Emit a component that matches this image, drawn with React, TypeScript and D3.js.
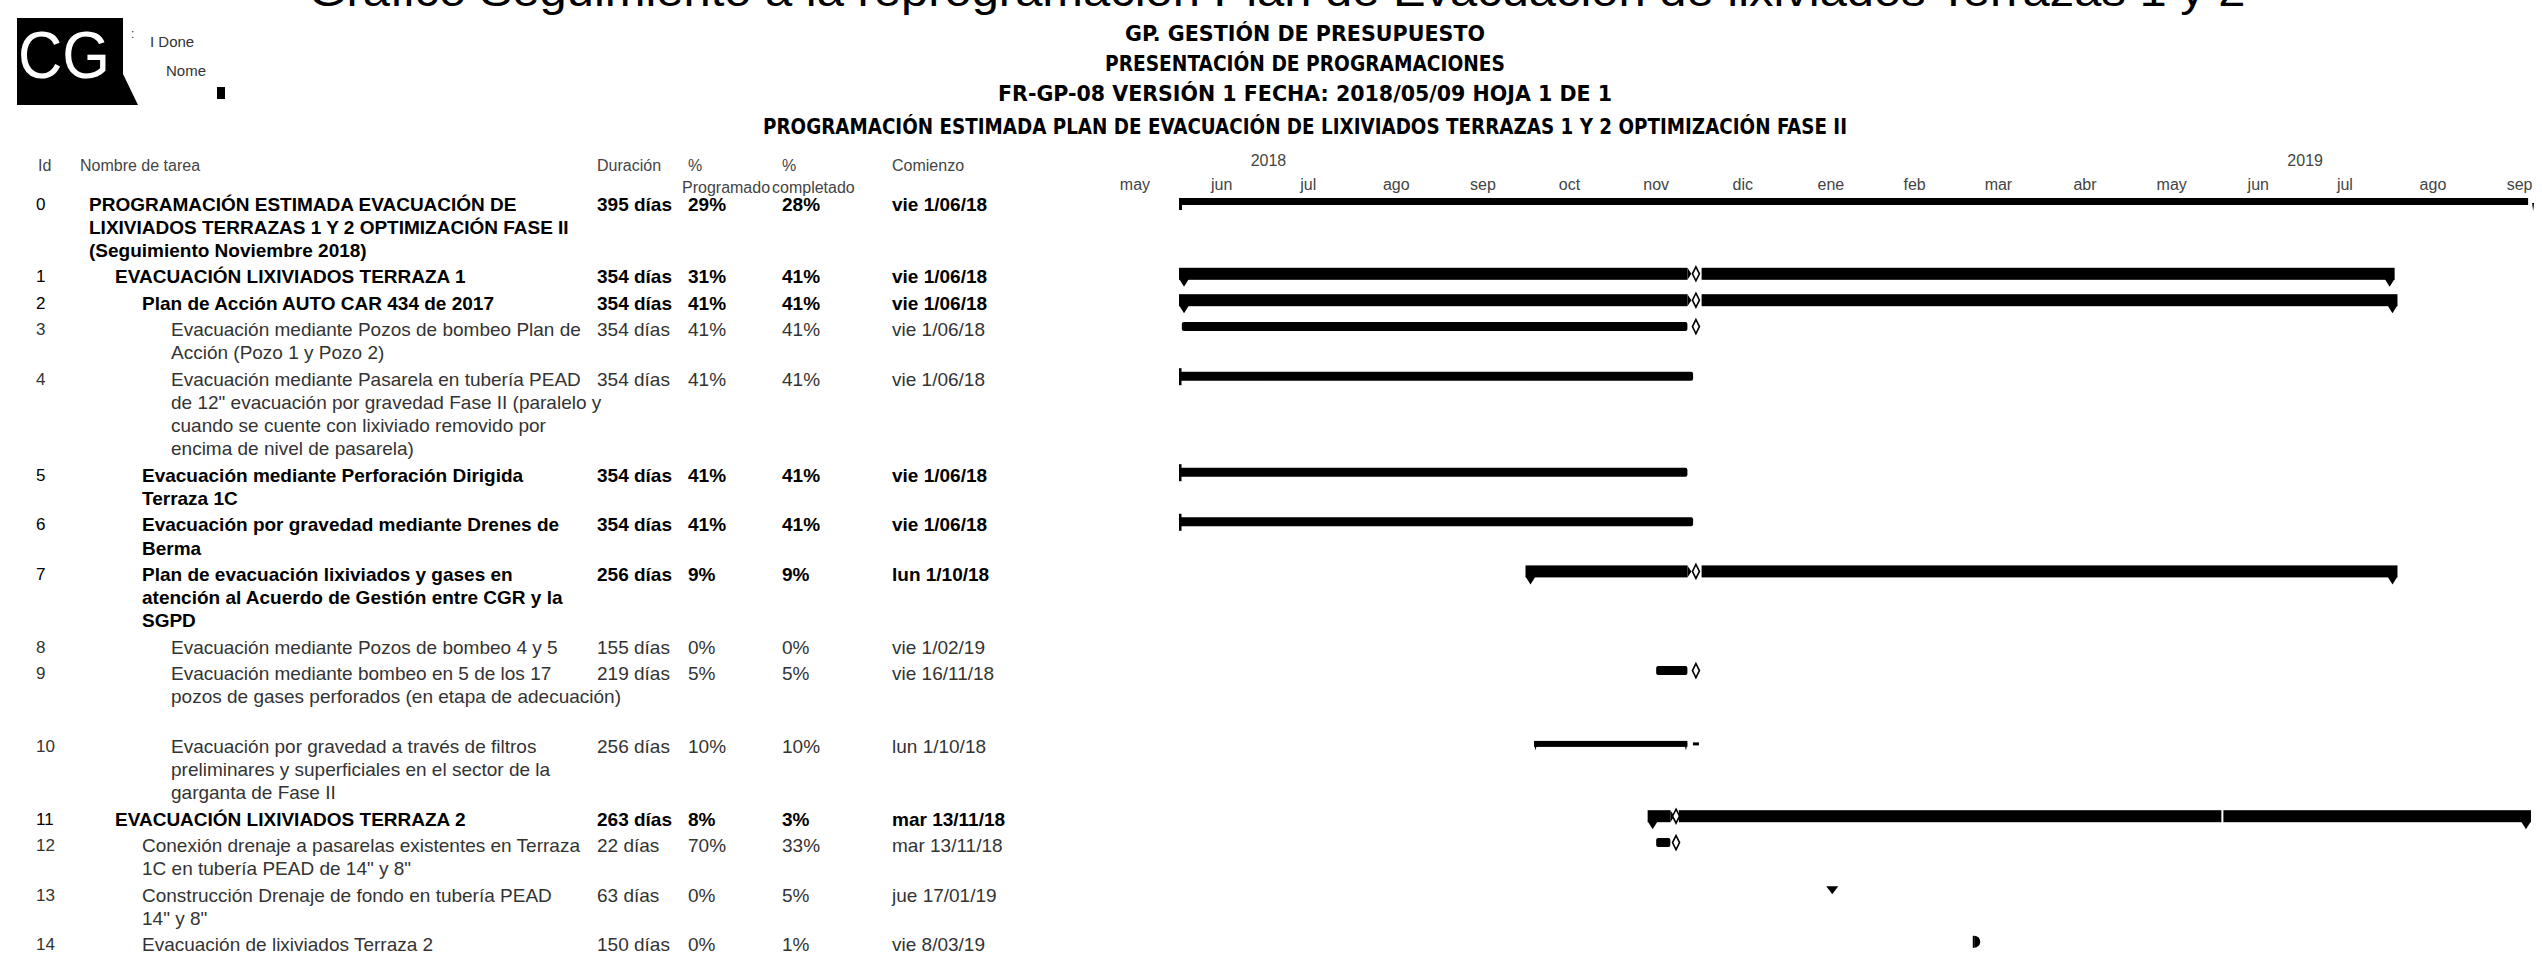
import React from "react";
import * as d3 from "d3";

const W = 2542;
const H = 961;

// ---------- data ----------
const ids = ["0", "1", "2", "3", "4", "5", "6", "7", "8", "9", "10", "11", "12", "13", "14"];
const taskNames: string[][] = [
  ["PROGRAMACIÓN ESTIMADA EVACUACIÓN DE", "LIXIVIADOS TERRAZAS 1 Y 2 OPTIMIZACIÓN FASE II", "(Seguimiento Noviembre 2018)"],
  ["EVACUACIÓN LIXIVIADOS TERRAZA 1"],
  ["Plan de Acción AUTO CAR 434 de 2017"],
  ["Evacuación mediante Pozos de bombeo Plan de", "Acción (Pozo 1 y Pozo 2)"],
  ["Evacuación mediante Pasarela en tubería PEAD", "de 12\" evacuación por gravedad Fase II (paralelo y", "cuando se cuente con lixiviado removido por", "encima de nivel de pasarela)"],
  ["Evacuación mediante Perforación Dirigida", "Terraza 1C"],
  ["Evacuación por gravedad mediante Drenes de", "Berma"],
  ["Plan de evacuación lixiviados y gases en", "atención al Acuerdo de Gestión entre CGR y la", "SGPD"],
  ["Evacuación mediante Pozos de bombeo 4 y 5"],
  ["Evacuación mediante bombeo en 5 de los 17", "pozos de gases perforados (en etapa de adecuación)"],
  ["Evacuación por gravedad a través de filtros", "preliminares y superficiales en el sector de la", "garganta de Fase II"],
  ["EVACUACIÓN LIXIVIADOS TERRAZA 2"],
  ["Conexión drenaje a pasarelas existentes en Terraza", "1C en tubería PEAD de 14\" y 8\""],
  ["Construcción Drenaje de fondo en tubería PEAD", "14\" y 8\""],
  ["Evacuación de lixiviados Terraza 2"],
];
const outlineLevel = [0, 1, 2, 3, 3, 2, 2, 2, 3, 3, 3, 1, 2, 2, 2];
const isBold = [true, true, true, false, false, true, true, true, false, false, false, true, false, false, false];
const rowLineCount = [3, 1, 1, 2, 4, 2, 2, 3, 1, 3, 3, 1, 2, 2, 1];
const durations = ["395 días", "354 días", "354 días", "354 días", "354 días", "354 días", "354 días", "256 días", "155 días", "219 días", "256 días", "263 días", "22 días", "63 días", "150 días"];
const pctProgramado = ["29%", "31%", "41%", "41%", "41%", "41%", "41%", "9%", "0%", "5%", "10%", "8%", "70%", "0%", "0%"];
const pctCompletado = ["28%", "41%", "41%", "41%", "41%", "41%", "41%", "9%", "0%", "5%", "10%", "3%", "33%", "5%", "1%"];
const startLabels = ["vie 1/06/18", "vie 1/06/18", "vie 1/06/18", "vie 1/06/18", "vie 1/06/18", "vie 1/06/18", "vie 1/06/18", "lun 1/10/18", "vie 1/02/19", "vie 16/11/18", "lun 1/10/18", "mar 13/11/18", "mar 13/11/18", "jue 17/01/19", "vie 8/03/19"];

// bar kinds and segments (dates)
const barKind = ["thin", "summary", "summary", "task", "task", "task", "task", "summary", "none", "task", "thinTask", "summary", "task", "milestone", "half"];
const barSegments: [string, string][][] = [
  [["2018-06-01", "2019-09-19"]],
  [["2018-06-01", "2018-11-27"], ["2018-12-02", "2019-08-03"]],
  [["2018-06-01", "2018-11-27"], ["2018-12-02", "2019-08-04"]],
  [["2018-06-02", "2018-11-27"]],
  [["2018-06-01", "2018-11-29"]],
  [["2018-06-01", "2018-11-27"]],
  [["2018-06-01", "2018-11-29"]],
  [["2018-10-01", "2018-11-27"], ["2018-12-02", "2019-08-04"]],
  [],
  [["2018-11-16", "2018-11-27"]],
  [["2018-10-04", "2018-11-27"]],
  [["2018-11-13", "2018-11-21"], ["2018-11-24", "2019-09-20"]],
  [["2018-11-16", "2018-11-21"]],
  [["2019-01-17", "2019-01-17"]],
  [["2019-03-08", "2019-03-08"]],
];
const statusMark: (string | null)[] = [null, "2018-11-30", "2018-11-30", "2018-11-30", null, null, null, "2018-11-30", null, "2018-11-30", "2018-11-30", "2018-11-23", "2018-11-23", null, null];
const notchDates: (string | null)[] = [null, null, null, null, null, null, null, null, null, null, null, "2019-06-03", null, null, null];

const monthLabels = ["may", "jun", "jul", "ago", "sep", "oct", "nov", "dic", "ene", "feb", "mar", "abr", "may", "jun", "jul", "ago", "sep"];
const yearLabels = ["2018", "2019"];

const headerLines = [
  "GP. GESTIÓN DE PRESUPUESTO",
  "PRESENTACIÓN DE PROGRAMACIONES",
  "FR-GP-08 VERSIÓN 1 FECHA: 2018/05/09 HOJA 1  DE 1",
  "PROGRAMACIÓN ESTIMADA PLAN DE EVACUACIÓN DE LIXIVIADOS TERRAZAS 1 Y 2 OPTIMIZACIÓN FASE II",
];
const titleText = "Gráfico Seguimiento a la reprogramación Plan de Evacuación de lixiviados Terrazas 1 y 2";

// ---------- helpers ----------
const parse = d3.timeParse("%Y-%m-%d");
const pd = (s: string) => parse(s) as Date;

const x = d3
  .scaleTime()
  .domain([new Date(2018, 5, 1), new Date(2019, 8, 1)])
  .range([1179, 2477]);

const FONT = "'Liberation Sans', Arial, sans-serif";
const NARROW = "'Liberation Sans Narrow', 'DejaVu Sans Condensed', 'Liberation Sans', sans-serif";

const levelX = [89, 115, 142, 171];
const lineH = 23.2;
const rowPad = 3.2;
const y0 = 204;

export default function App() {
  const rowY: number[] = [];
  let cum = 0;
  rowLineCount.forEach((n, i) => {
    rowY.push(y0 + cum * lineH + i * rowPad);
    cum += n;
  });

  const months = d3.timeMonth.range(new Date(2018, 4, 1), new Date(2019, 9, 1));

  const diamond = (cx: number, cy: number, key: string) => (
    <path
      key={key}
      d={`M${cx},${cy - 7} L${cx + 3.5},${cy} L${cx},${cy + 7} L${cx - 3.5},${cy} Z`}
      fill="#fff"
      stroke="#000"
      strokeWidth={1.6}
    />
  );

  const bars: React.ReactNode[] = [];
  barSegments.forEach((segs, i) => {
    const cy = rowY[i] - 3;
    const kind = barKind[i];
    segs.forEach((s, j) => {
      const x0 = x(pd(s[0]));
      const x1 = x(pd(s[1]));
      const k = `b${i}-${j}`;
      if (kind === "summary") {
        bars.push(<rect key={k} x={x0} y={cy - 6} width={x1 - x0} height={12} fill="#000" />);
        if (j === 0) {
          bars.push(<path key={k + "l"} d={`M${x0},${cy + 5} L${x0 + 10},${cy + 5} L${x0 + 5},${cy + 13} Z`} fill="#000" />);
        }
        if (j === segs.length - 1) {
          bars.push(<path key={k + "r"} d={`M${x1 - 10},${cy + 5} L${x1},${cy + 5} L${x1 - 5},${cy + 13} Z`} fill="#000" />);
        }
        if (segs.length > 1 && j === 0) {
          bars.push(<path key={k + "a"} d={`M${x1},${cy - 6} L${x1 + 4},${cy} L${x1},${cy + 6} Z`} fill="#000" />);
        }
      } else if (kind === "thin") {
        bars.push(<rect key={k} x={x0} y={cy - 3} width={x1 - x0} height={7} fill="#000" />);
        bars.push(<path key={k + "s"} d={`M${x0},${cy - 3} L${x0 + 3},${cy - 3} L${x0 + 3},${cy + 9} L${x0},${cy + 9} Z`} fill="#000" />);
        bars.push(<path key={k + "e"} d={`M${x1 + 4},${cy + 2} L${x1 + 6},${cy + 2} L${x1 + 5},${cy + 10} Z`} fill="#000" />);
      } else if (kind === "task") {
        bars.push(<rect key={k} x={x0} y={cy - 4.5} width={Math.max(x1 - x0, 6)} height={9} rx={2} fill="#000" />);
        if (i === 4 || i === 5 || i === 6) {
          bars.push(<rect key={k + "t"} x={x0} y={cy - 8} width={2.5} height={17} fill="#000" />);
        }
      } else if (kind === "thinTask") {
        bars.push(<rect key={k} x={x0} y={cy - 2.5} width={x1 - x0} height={6} fill="#000" />);
        bars.push(<path key={k + "t"} d={`M${x0},${cy} L${x0 + 3},${cy} L${x0 + 1.5},${cy + 7} Z`} fill="#000" />);
        bars.push(<path key={k + "u"} d={`M${x1 - 3},${cy} L${x1},${cy} L${x1 - 1.5},${cy + 7} Z`} fill="#000" />);
      } else if (kind === "milestone") {
        bars.push(<path key={k} d={`M${x0 - 6},${cy - 6} L${x0 + 6},${cy - 6} L${x0},${cy + 2} Z`} fill="#000" />);
      } else if (kind === "half") {
        bars.push(<path key={k} d={`M${x0},${cy - 6} A6,6 0 0 1 ${x0},${cy + 6} Z`} fill="#000" />);
        bars.push(<rect key={k + "r"} x={x0 - 1.5} y={cy - 6} width={1.5} height={12} fill="#000" />);
      }
    });
    const nd = notchDates[i];
    if (nd) {
      bars.push(<rect key={`n${i}`} x={x(pd(nd))} y={cy - 7} width={2} height={14} fill="#fff" />);
    }
    const sm = statusMark[i];
    if (sm) {
      const sx = x(pd(sm));
      if (kind === "thinTask") {
        bars.push(<rect key={`s${i}`} x={sx - 3} y={cy - 1} width={6} height={3} fill="#000" />);
      } else {
        bars.push(diamond(sx, cy, `s${i}`));
      }
    }
  });

  return (
    <div style={{ position: "absolute", left: 0, top: 0, width: W, height: H, background: "#fff" }}>
      <svg width={W} height={H} viewBox={`0 0 ${W} ${H}`} style={{ display: "block" }}>
        <rect x={0} y={0} width={W} height={H} fill="#fff" />
        {/* title, cut off at the top edge as in the reference */}
        <text
          x={1277}
          y={6}
          textAnchor="middle"
          fontFamily={FONT}
          fontSize={44}
          fill="#000"
          textLength={1937}
          lengthAdjust="spacingAndGlyphs"
        >
          {titleText}
        </text>

        {/* logo */}
        <path d="M17,18 L123,18 L123,74 L138,105 L17,105 Z" fill="#000" />
        <text x={64} y={78} textAnchor="middle" fontFamily={FONT} fontSize={66} fill="#fff" textLength={92} lengthAdjust="spacingAndGlyphs">
          CG
        </text>
        <text x={131} y={38} fontFamily={FONT} fontSize={12} fill="#333">:</text>
        <text x={150} y={47} fontFamily={FONT} fontSize={15} fill="#333">I Done</text>
        <text x={166} y={76} fontFamily={FONT} fontSize={15} fill="#333">Nome</text>
        <rect x={217} y={87} width={8} height={12} fill="#000" />

        {/* header lines */}
        {headerLines.map((t, i) => (
          <text
            key={`h${i}`}
            x={1305}
            y={[41, 71, 101, 134][i]}
            textAnchor="middle"
            fontFamily={NARROW}
            fontWeight="bold"
            fontSize={22}
            fill="#000"
            textLength={[360, 400, 614, 1084][i]}
            lengthAdjust="spacingAndGlyphs"
          >
            {t}
          </text>
        ))}

        {/* table header */}
        <g fontFamily={FONT} fontSize={16} fill="#444">
          <text x={38} y={171}>Id</text>
          <text x={80} y={171}>Nombre de tarea</text>
          <text x={597} y={171}>Duración</text>
          <text x={688} y={171}>%</text>
          <text x={782} y={171}>%</text>
          <text x={892} y={171}>Comienzo</text>
          <text x={682} y={193}>Programado</text>
          <text x={772} y={193}>completado</text>
        </g>

        {/* timescale */}
        <g fontFamily={FONT} fontSize={16} fill="#444" textAnchor="middle">
          {yearLabels.map((yl) => {
            const yr = +yl;
            const mid = new Date((new Date(yr, 0, 1).getTime() + new Date(yr + 1, 0, 1).getTime()) / 2);
            return (
              <text key={yl} x={x(mid)} y={166}>
                {yl}
              </text>
            );
          })}
          {months.map((m, i) => {
            const mid = new Date((m.getTime() + d3.timeMonth.offset(m, 1).getTime()) / 2);
            return (
              <text key={`m${i}`} x={x(mid)} y={190}>
                {monthLabels[i]}
              </text>
            );
          })}
        </g>

        {/* table rows */}
        {ids.map((id, i) => {
          const y = rowY[i];
          const weight = isBold[i] ? "bold" : "normal";
          const fill = isBold[i] ? "#000" : "#333";
          return (
            <g key={`r${i}`} fontFamily={FONT} fontSize={19} fill={fill} fontWeight={weight} dominantBaseline="central">
              <text x={36} y={y} fontWeight="normal" fontSize={17}>{id}</text>
              {taskNames[i].map((ln, j) => (
                <text key={j} x={levelX[outlineLevel[i]]} y={y + j * lineH}>
                  {ln}
                </text>
              ))}
              <text x={597} y={y}>{durations[i]}</text>
              <text x={688} y={y}>{pctProgramado[i]}</text>
              <text x={782} y={y}>{pctCompletado[i]}</text>
              <text x={892} y={y}>{startLabels[i]}</text>
            </g>
          );
        })}

        {/* gantt bars */}
        <g>{bars}</g>
      </svg>
    </div>
  );
}
